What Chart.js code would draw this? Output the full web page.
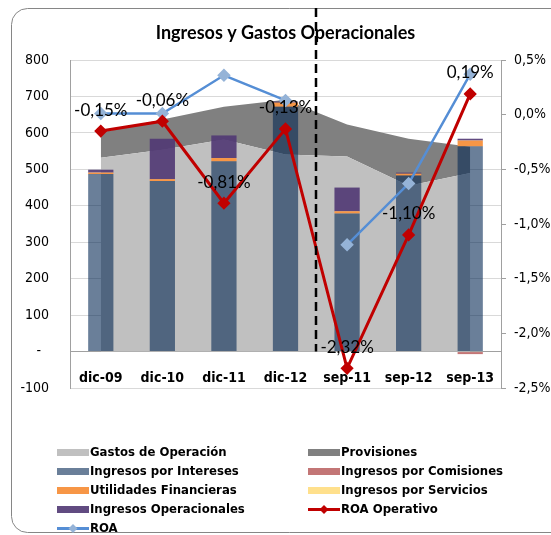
<!DOCTYPE html>
<html>
<head>
<meta charset="utf-8">
<script src="https://cdn.jsdelivr.net/npm/chart.js@4.4.0/dist/chart.umd.min.js"></script>
<style>
  body { margin: 0; background: #fff; }
  canvas { display: block; }
</style>
</head>
<body>
<canvas id="chart" width="551" height="535"></canvas>
<script>
const categories = ['dic-09', 'dic-10', 'dic-11', 'dic-12', 'sep-11', 'sep-12', 'sep-13'];

// left axis (millions)
const gastosOperacion = [532, 554, 582, 541, 535, 455, 490];
const provisiones = [69, 83, 90, 150, 88, 129, 72];
const ingresosIntereses = [487, 468, 522, 672, 379, 483, 563];
const ingresosComisiones = [0, 0, 0, 0, 0, 0, -7];
const utilidadesFinancieras = [4, 5, 9, 11, 6, 5, 16];
const ingresosServicios = [0, 0, 0, 0, 0, 0, 0];
const ingresosOperacionales = [8, 111, 62, 3, 65, 3, 5];

// right axis (%)
const roaOperativo = [-0.15, -0.06, -0.81, -0.13, -2.32, -1.10, 0.19];
const roa = [0.01, 0.01, 0.36, 0.13, -1.19, -0.63, 0.37];

const leftTicks = [-100, 800, 100];   // min, max, step
const rightTicks = [-2.5, 0.5, 0.5];

const tickFont = 'DejaVu Sans Condensed, DejaVu Sans, sans-serif';
Chart.defaults.font.family = tickFont;
Chart.defaults.color = '#000';

const pct = (v, d) => {
  if (Math.abs(v) < 1e-9) v = 0;
  return v.toFixed(d).replace('.', ',') + '%';
};

// outer frame, dashed separator, data labels and legend
const decorations = {
  id: 'decorations',
  afterDraw(chart) {
    const c = chart.ctx;
    const xs = chart.scales.x, ys = chart.scales.y;

    // frame
    c.save();
    c.strokeStyle = '#868686';
    c.lineWidth = 1;
    c.beginPath();
    c.roundRect(11.5, 8.5, 600, 524, 16);
    c.stroke();

    // dashed line between the year-end and september series
    const dx = Math.round((xs.getPixelForValue(3) + xs.getPixelForValue(4)) / 2);
    c.strokeStyle = '#000';
    c.lineWidth = 2.5;
    c.setLineDash([9, 5]);
    c.beginPath();
    c.moveTo(dx, 8);
    c.lineTo(dx, ys.getPixelForValue(0));
    c.stroke();
    c.setLineDash([]);

    // ROA Operativo labels
    const meta = chart.getDatasetMeta(7);
    c.font = '17px Lato, sans-serif';
    c.fillStyle = '#000';
    c.textAlign = 'center';
    c.textBaseline = 'middle';
    meta.data.forEach((pt, i) => {
      c.fillText(pct(roaOperativo[i], 2), pt.x, pt.y - 21);
    });

    // legend, two columns
    c.font = 'bold 13px ' + tickFont;
    c.textAlign = 'left';
    chart.data.datasets.forEach((ds, i) => {
      const x = i % 2 === 0 ? 57 : 308;
      const y = 452.5 + Math.floor(i / 2) * 19;
      if (ds.type === 'line' && !ds.fill) {
        c.strokeStyle = ds.borderColor;
        c.lineWidth = 3;
        c.beginPath();
        c.moveTo(x, y);
        c.lineTo(x + 32, y);
        c.stroke();
        c.fillStyle = ds.pointBackgroundColor;
        c.beginPath();
        c.moveTo(x + 16, y - 4.5);
        c.lineTo(x + 20.5, y);
        c.lineTo(x + 16, y + 4.5);
        c.lineTo(x + 11.5, y);
        c.closePath();
        c.fill();
      } else {
        c.fillStyle = ds.backgroundColor;
        c.fillRect(x, y - 3.5, 32, 7);
      }
      c.fillStyle = '#000';
      c.fillText(ds.label, x + 33, y + 0.5);
    });
    c.restore();
  }
};

const barDefaults = {
  stack: 'bars',
  order: 1,
  barPercentage: 0.41,
  categoryPercentage: 1,
  borderWidth: 0
};

new Chart(document.getElementById('chart'), {
  type: 'bar',
  data: {
    labels: categories,
    datasets: [
      { type: 'line', label: 'Gastos de Operación', data: gastosOperacion, stack: 'areas', order: 2,
        fill: 'origin', backgroundColor: '#c0c0c0', borderColor: 'transparent', borderWidth: 0, pointRadius: 0 },
      { type: 'line', label: 'Provisiones', data: provisiones, stack: 'areas', order: 2,
        fill: '-1', backgroundColor: '#808080', borderColor: 'transparent', borderWidth: 0, pointRadius: 0 },
      { ...barDefaults, label: 'Ingresos por Intereses', data: ingresosIntereses, backgroundColor: 'rgba(2,38,82,0.59)' },
      { ...barDefaults, label: 'Ingresos por Comisiones', data: ingresosComisiones, backgroundColor: 'rgba(170,60,60,0.7)' },
      { ...barDefaults, label: 'Utilidades Financieras', data: utilidadesFinancieras, backgroundColor: '#f79646' },
      { ...barDefaults, label: 'Ingresos por Servicios', data: ingresosServicios, backgroundColor: '#ffe08c' },
      { ...barDefaults, label: 'Ingresos Operacionales', data: ingresosOperacionales, backgroundColor: 'rgba(80,55,115,0.9)' },
      { type: 'line', label: 'ROA Operativo', data: roaOperativo, yAxisID: 'y1', order: 0, fill: false,
        borderColor: '#c00000', borderWidth: 3, tension: 0,
        pointStyle: 'rectRot', pointRadius: 4.5, pointBackgroundColor: '#c00000', pointBorderColor: '#c00000' },
      { type: 'line', label: 'ROA', data: roa, yAxisID: 'y1', order: 0, fill: false,
        borderColor: '#558ed5', borderWidth: 2.5, tension: 0,
        segment: { borderColor: ctx => ctx.p0DataIndex === 3 ? 'transparent' : '#558ed5' },
        pointStyle: 'rectRot', pointRadius: 5, pointBackgroundColor: '#95b3d7', pointBorderColor: '#95b3d7' }
    ]
  },
  options: {
    responsive: false,
    animation: false,
    layout: { padding: { left: 0, right: 0, top: 0, bottom: 147 } },
    plugins: {
      legend: { display: false },
      tooltip: { enabled: false },
      title: {
        display: true,
        fullSize: false,
        text: 'Ingresos y Gastos Operacionales',
        color: '#000',
        font: { family: 'Lato, sans-serif', size: 18, weight: 'bold', lineHeight: 1.2 },
        padding: { top: 22, bottom: 16.4 }
      }
    },
    scales: {
      x: {
        position: { y: 0 },
        grid: { display: false },
        border: { display: true, color: '#a0a0a0', width: 1 },
        ticks: { padding: 10, font: { size: 14, weight: 'bold' }, color: '#000' }
      },
      y: {
        position: 'left',
        stacked: true,
        min: leftTicks[0], max: leftTicks[1],
        afterFit: s => { s.width = 70; },
        grid: { color: '#d9d9d9', drawTicks: false },
        border: { display: true, color: '#a0a0a0' },
        ticks: {
          stepSize: leftTicks[2], padding: 21, font: { size: 14 }, color: '#000',
          callback: v => v === 0 ? '-  ' : v
        }
      },
      y1: {
        position: 'right',
        min: rightTicks[0], max: rightTicks[1],
        afterFit: s => { s.width = 50; },
        grid: { drawOnChartArea: false, drawTicks: true, tickLength: 5, color: '#a0a0a0' },
        border: { display: true, color: '#a0a0a0' },
        ticks: {
          stepSize: rightTicks[2], padding: 8, font: { size: 14 }, color: '#000',
          callback: v => pct(v, 1)
        }
      }
    }
  },
  plugins: [decorations]
});
</script>
</body>
</html>
